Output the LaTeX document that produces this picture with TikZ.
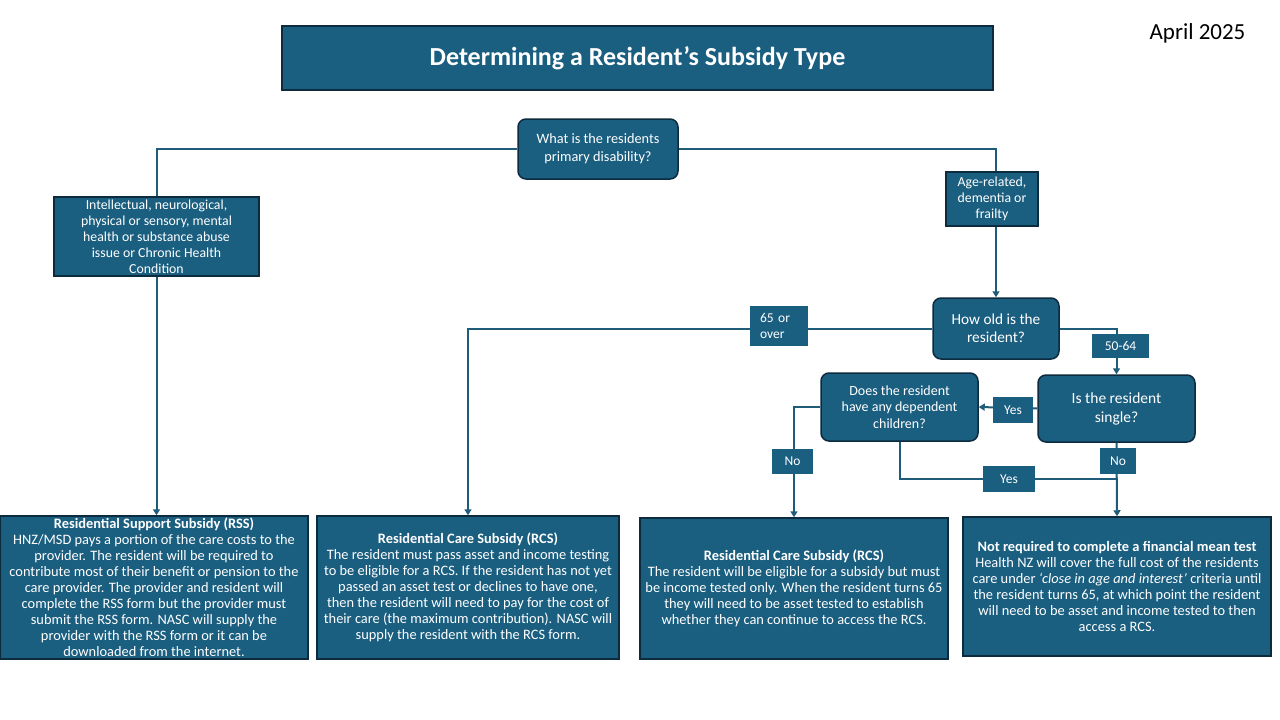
\documentclass[tikz,border=0pt]{standalone}
\usepackage{fontspec}
\setmainfont{Carlito}
\usetikzlibrary{arrows.meta}
\definecolor{boxfill}{HTML}{1A5E80}
\definecolor{boxedge}{HTML}{0D2B3E}
\definecolor{linecol}{HTML}{1F5C7A}
\tikzset{
  base/.style={fill=boxfill,draw=boxedge,line width=1.5pt,text=white,align=center,inner sep=0pt,anchor=center},
  sqbox/.style={base},
  rbox/.style={base,rounded corners=8pt},
  lbl/.style={fill=boxfill,draw=none,text=white,inner sep=0pt,anchor=center,font=\fontsize{13.5}{16}\selectfont},
  conn/.style={draw=linecol,line width=2pt},
  arr/.style={conn,-{Triangle[width=7pt,length=6pt]}},
  body/.style={font=\fontsize{14.4}{16}\selectfont},
}
\begin{document}
\begin{tikzpicture}[x=1pt,y=-1pt]
\useasboundingbox (0,0) rectangle (1280,720);
% title
\node[sqbox,minimum width=711pt,minimum height=64pt,font=\fontsize{26}{30}\selectfont\bfseries] (title) at (637.5,58) {Determining a Resident’s Subsidy Type};
\node[anchor=center,font=\fontsize{23}{26}\selectfont] (date) at (1197.5,33) {April 2025};
% questions
\node[rbox,minimum width=160pt,minimum height=60pt,font=\fontsize{14.3}{18}\selectfont] (q1) at (598,149) {What is the residents\\primary disability?};
\node[sqbox,minimum width=205pt,minimum height=79pt,font=\fontsize{13.8}{16}\selectfont] (lb) at (156.5,236.5) {Intellectual, neurological,\\physical or sensory, mental\\health or substance abuse\\issue or Chronic Health\\Condition};
\node[sqbox,minimum width=92pt,minimum height=54pt,font=\fontsize{13.8}{16}\selectfont] (age) at (992,199) {Age-related,\\dementia or\\frailty};
\node[rbox,minimum width=126pt,minimum height=61pt,font=\fontsize{15.3}{18}\selectfont] (q2) at (996,328.5) {How old is the\\resident?};
\node[rbox,minimum width=157pt,minimum height=67pt,font=\fontsize{15.5}{19}\selectfont] (q3) at (1116.5,408.5) {Is the resident\\single?};
\node[rbox,minimum width=157pt,minimum height=68pt,font=\fontsize{14}{16.5}\selectfont] (q4) at (899.5,407) {Does the resident\\have any dependent\\children?};
% outcomes
\node[sqbox,minimum width=308pt,minimum height=143pt,body] (rss) at (154,587.5) {\textbf{Residential Support Subsidy (RSS)}\\HNZ/MSD pays a portion of the care costs to the\\provider. The resident will be required to\\contribute most of their benefit or pension to the\\care provider. The provider and resident will\\complete the RSS form but the provider must\\submit the RSS form. NASC will supply the\\provider with the RSS form or it can be\\downloaded from the internet.};
\node[sqbox,minimum width=302pt,minimum height=143pt,body] (rcs1) at (468,587.5) {\textbf{Residential Care Subsidy (RCS)}\\The resident must pass asset and income testing\\to be eligible for a RCS. If the resident has not yet\\passed an asset test or declines to have one,\\then the resident will need to pay for the cost of\\their care (the maximum contribution). NASC will\\supply the resident with the RCS form.};
\node[sqbox,minimum width=308pt,minimum height=141pt,body] (rcs2) at (794,588.5) {\textbf{Residential Care Subsidy (RCS)}\\The resident will be eligible for a subsidy but must\\be income tested only. When the resident turns 65\\they will need to be asset tested to establish\\whether they can continue to access the RCS.};
\node[sqbox,minimum width=308pt,minimum height=139pt,body] (nrc) at (1117,586.5) {\textbf{Not required to complete a financial mean test}\\Health NZ will cover the full cost of the residents\\care under \textit{‘close in age and interest’} criteria until\\the resident turns 65, at which point the resident\\will need to be asset and income tested to then\\access a RCS.};
% connectors
\draw[conn] (q1.west) -| (lb.north);
\draw[arr] (lb.south) -- (lb.south |- rss.north);
\draw[conn] (q1.east) -| (q2.north |- age.north);
\draw[arr] (q2.north |- age.south) -- (q2.north);
\draw[arr] (q2.west) -| (rcs1.north);
\draw[arr] (q2.east) -| (q3.north);
\draw[arr] (q3.west) -- (q4.east);
\draw[arr] (q4.west) -| (rcs2.north);
\coordinate (join) at (1117,479);
\draw[conn] (q4.south) |- (join);
\draw[arr] (q3.south) -- (nrc.north);
% labels
\node[lbl,minimum width=58pt,minimum height=40pt,align=left,text width=38pt] (l65) at (779,326) {65 or\\over};
\node[lbl,minimum width=57pt,minimum height=24pt] (l5064) at (1120.5,346) {50-64};
\node[lbl,minimum width=40pt,minimum height=26pt] (lyes1) at (1013,410) {Yes};
\node[lbl,minimum width=41pt,minimum height=25pt] (lno1) at (792.5,461.5) {No};
\node[lbl,minimum width=52pt,minimum height=26pt] (lyes2) at (1009,479) {Yes};
\node[lbl,minimum width=36pt,minimum height=26pt] (lno2) at (1118,461) {No};
\end{tikzpicture}
\end{document}
